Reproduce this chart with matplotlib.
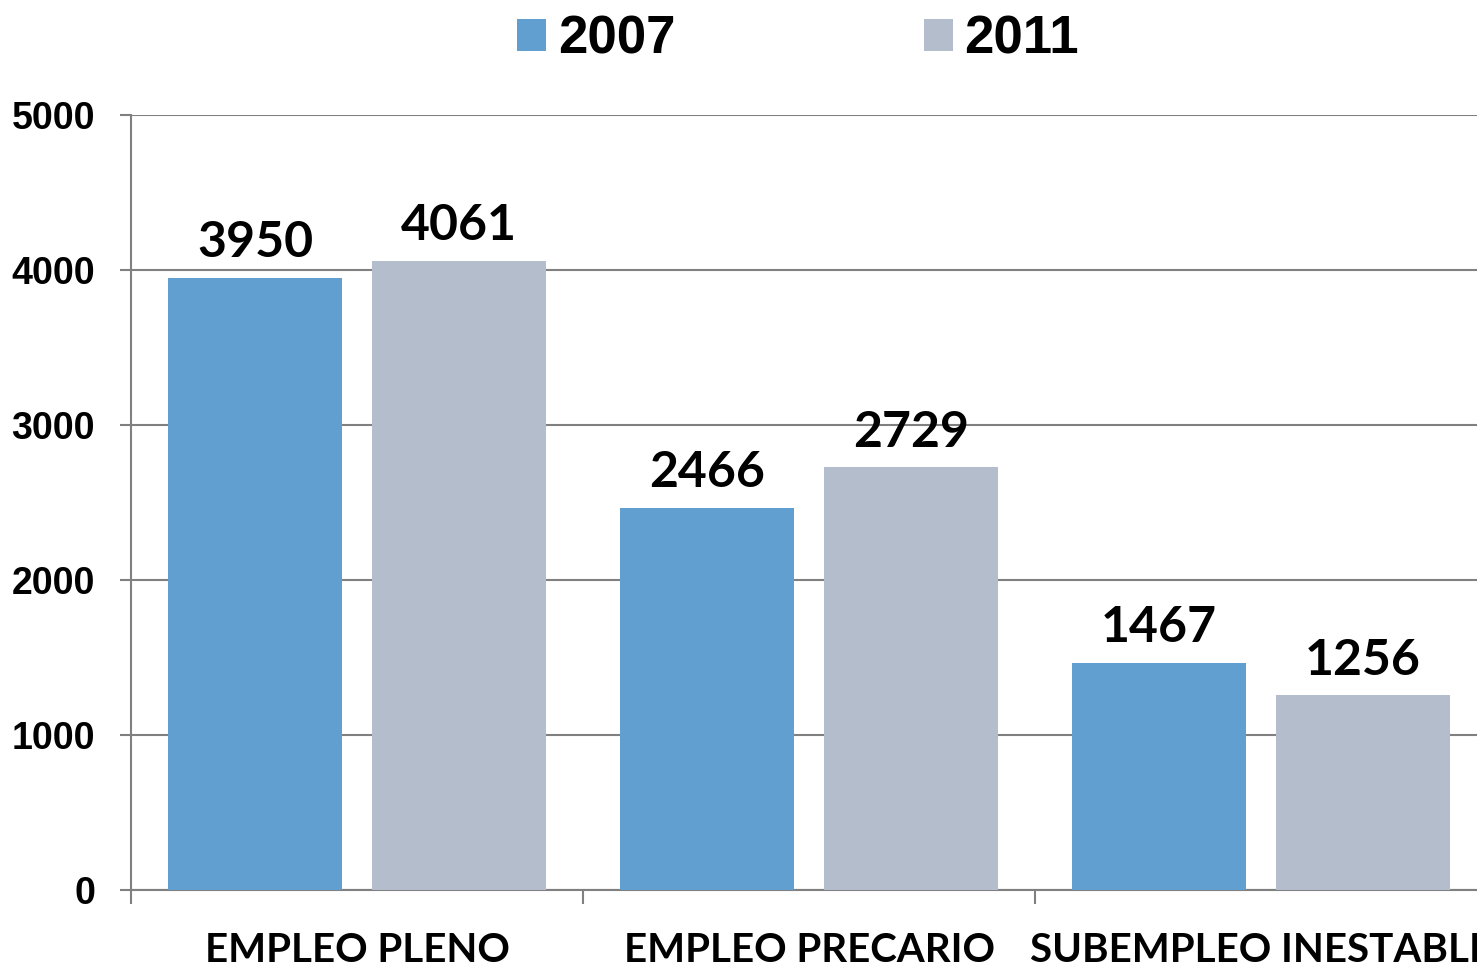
import matplotlib
matplotlib.use("Agg")
import matplotlib.pyplot as plt
import numpy as np

categories = ["EMPLEO PLENO", "EMPLEO PRECARIO", "SUBEMPLEO INESTABLE"]
series_names = ["2007", "2011"]
values_2007 = [3950, 2466, 1467]
values_2011 = [4061, 2729, 1256]
yticks = [0, 1000, 2000, 3000, 4000, 5000]

c2007 = "#629FD1"
c2011 = "#B3BDCC"
grid_c = "#808080"

fig = plt.figure(figsize=(14.77, 9.66), dpi=100)
ax = fig.add_axes([131/1477, 1-890/966, 1356/1477, 775/966])

x = np.arange(len(categories))
w = 0.385
off = 0.2257
b1 = ax.bar(x - off, values_2007, w, color=c2007, zorder=3, label=series_names[0])
b2 = ax.bar(x + off, values_2011, w, color=c2011, zorder=3, label=series_names[1])

for bars, vals in ((b1, values_2007), (b2, values_2011)):
    for r, v in zip(bars, vals):
        ax.annotate(f"{v}", (r.get_x() + r.get_width()/2, v), xytext=(0, 9),
                    textcoords="offset points", ha="center", va="bottom",
                    fontsize=36, fontweight="bold", family="Lato", color="black")

ax.set_xlim(-0.5, 2.5)
ax.set_ylim(0, 5000)
ax.set_yticks(yticks)
ax.set_yticklabels([str(t) for t in yticks], fontsize=27, fontweight="bold",
                   family="Liberation Sans")
ax.yaxis.grid(True, color=grid_c, linewidth=1.5, zorder=0)
ax.set_axisbelow(True)

ax.set_xticks(x)
ax.set_xticklabels(categories, fontsize=29, fontweight="bold", family="Lato")
ax.tick_params(axis="x", which="major", length=0, pad=30)
ax.set_xticks([-0.5, 0.5, 1.5, 2.5], minor=True)
ax.tick_params(axis="x", which="minor", length=10, width=1.5, color=grid_c, direction="out")
ax.tick_params(axis="y", length=8, width=1.5, color=grid_c, pad=18)

for s in ("top", "right"):
    ax.spines[s].set_visible(False)
for s in ("left", "bottom"):
    ax.spines[s].set_color(grid_c)
    ax.spines[s].set_linewidth(1.5)

leg = fig.legend(handles=[b1, b2], labels=series_names, loc="upper left",
                 bbox_to_anchor=(491/1477, 1.012), ncol=2, frameon=False,
                 prop={"family": "Liberation Sans", "weight": "bold", "size": 38},
                 handlelength=0.55, handleheight=0.55, handletextpad=0.22,
                 columnspacing=4.7, borderaxespad=0.1)

fig.savefig("out.png", dpi=100)
